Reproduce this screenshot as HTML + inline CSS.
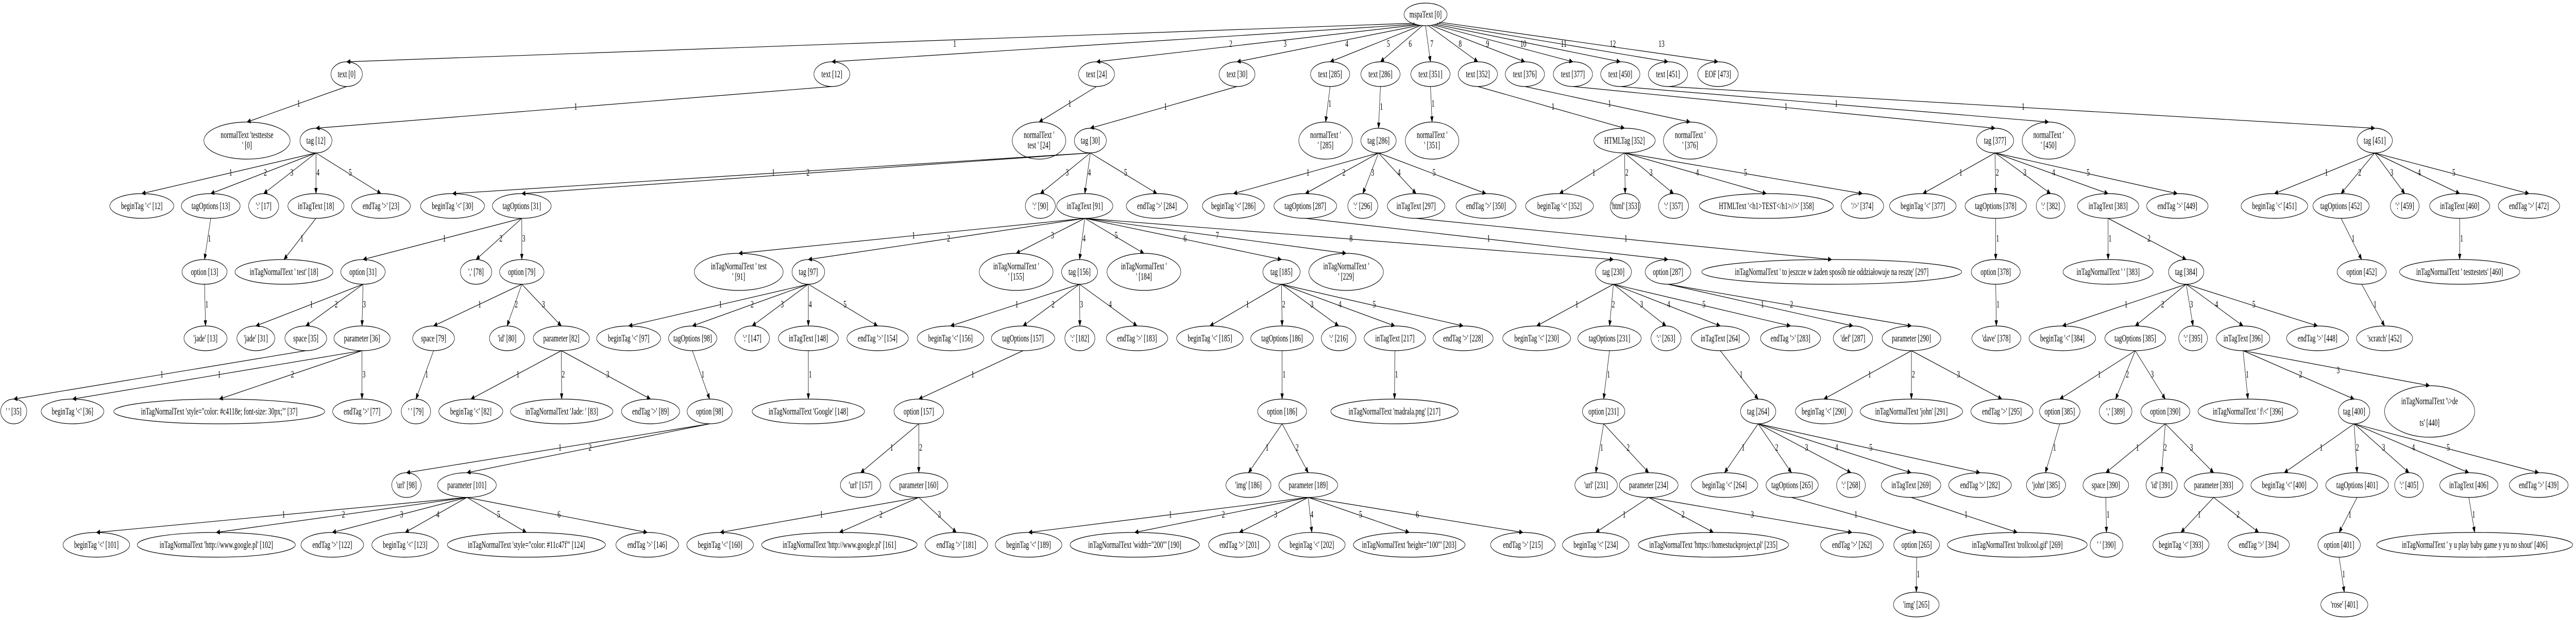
<!DOCTYPE html>
<html><head><meta charset="utf-8">
<style>
html,body{margin:0;padding:0;background:#fff;width:100%;height:100%;overflow:hidden;}
svg{display:block;width:100vw;height:100vh;}
text{font-family:"Liberation Serif","DejaVu Serif",serif;font-size:18.7px;text-anchor:middle;fill:#000;}
ellipse{fill:none;stroke:#000;stroke-width:1.2;}
line{stroke:#000;stroke-width:1.2;}
</style></head><body>
<svg xmlns="http://www.w3.org/2000/svg" viewBox="0 0 7884 1204" preserveAspectRatio="none">
<defs><marker id="a" markerWidth="12" markerHeight="10" refX="11" refY="5" orient="auto" markerUnits="userSpaceOnUse"><path d="M0,0 L12,5 L0,10 z" fill="#000"/></marker></defs>
<g marker-end="url(#a)">
<line x1="4330" y1="45" x2="1061" y2="120"/><line x1="4335" y1="47" x2="2546" y2="120"/><line x1="4340" y1="48" x2="3356" y2="120"/><line x1="4345" y1="49" x2="3786" y2="120"/><line x1="4350" y1="49" x2="4071" y2="120"/><line x1="4355" y1="49" x2="4225" y2="120"/><line x1="4363" y1="50" x2="4378" y2="120"/><line x1="4370" y1="49" x2="4523" y2="120"/><line x1="4378" y1="49" x2="4667" y2="120"/><line x1="4385" y1="48" x2="4814" y2="120"/><line x1="4392" y1="47" x2="4959" y2="120"/><line x1="4398" y1="45" x2="5105" y2="120"/><line x1="4405" y1="43" x2="5258" y2="120"/>
<line x1="1061" y1="168" x2="756" y2="237"/><line x1="2546" y1="168" x2="967" y2="249"/><line x1="3356" y1="168" x2="3180" y2="237"/><line x1="3786" y1="168" x2="3337" y2="249"/><line x1="4071" y1="168" x2="4057" y2="237"/><line x1="4225" y1="168" x2="4219" y2="249"/><line x1="4378" y1="168" x2="4383" y2="237"/><line x1="4523" y1="168" x2="4972" y2="249"/><line x1="4667" y1="168" x2="5173" y2="237"/><line x1="4814" y1="168" x2="6106" y2="249"/><line x1="4959" y1="168" x2="6270" y2="237"/><line x1="5105" y1="168" x2="7268" y2="249"/>
<line x1="967" y1="297" x2="434" y2="376"/><line x1="967" y1="297" x2="645" y2="376"/><line x1="967" y1="297" x2="807" y2="376"/><line x1="967" y1="297" x2="967" y2="376"/><line x1="967" y1="297" x2="1166" y2="376"/>
<line x1="3337" y1="297" x2="1385" y2="376"/><line x1="3337" y1="297" x2="1597" y2="376"/><line x1="3337" y1="297" x2="3184" y2="376"/><line x1="3337" y1="297" x2="3320" y2="376"/><line x1="3337" y1="297" x2="3541" y2="376"/>
<line x1="4219" y1="297" x2="3775" y2="376"/><line x1="4219" y1="297" x2="3995" y2="376"/><line x1="4219" y1="297" x2="4171" y2="376"/><line x1="4219" y1="297" x2="4334" y2="376"/><line x1="4219" y1="297" x2="4548" y2="376"/>
<line x1="4972" y1="297" x2="4773" y2="376"/><line x1="4972" y1="297" x2="4974" y2="376"/><line x1="4972" y1="297" x2="5122" y2="376"/><line x1="4972" y1="297" x2="5406" y2="376"/><line x1="4972" y1="297" x2="5700" y2="376"/>
<line x1="6106" y1="297" x2="5885" y2="376"/><line x1="6106" y1="297" x2="6108" y2="376"/><line x1="6106" y1="297" x2="6276" y2="376"/><line x1="6106" y1="297" x2="6452" y2="376"/><line x1="6106" y1="297" x2="6664" y2="376"/>
<line x1="7268" y1="297" x2="6961" y2="376"/><line x1="7268" y1="297" x2="7165" y2="376"/><line x1="7268" y1="297" x2="7360" y2="376"/><line x1="7268" y1="297" x2="7528" y2="376"/><line x1="7268" y1="297" x2="7740" y2="376"/>
<line x1="645" y1="424" x2="626" y2="504"/><line x1="967" y1="424" x2="869" y2="504"/>
<line x1="1597" y1="424" x2="1111" y2="504"/><line x1="1597" y1="424" x2="1457" y2="504"/><line x1="1597" y1="424" x2="1597" y2="504"/>
<line x1="3320" y1="424" x2="2261" y2="492"/><line x1="3320" y1="424" x2="2474" y2="504"/><line x1="3320" y1="424" x2="3110" y2="492"/><line x1="3320" y1="424" x2="3304" y2="504"/><line x1="3320" y1="424" x2="3501" y2="492"/><line x1="3320" y1="424" x2="3922" y2="504"/><line x1="3320" y1="424" x2="4120" y2="492"/><line x1="3320" y1="424" x2="4938" y2="504"/>
<line x1="3995" y1="424" x2="5105" y2="504"/><line x1="4334" y1="424" x2="5606" y2="504"/>
<line x1="6108" y1="424" x2="6108" y2="504"/><line x1="6452" y1="424" x2="6452" y2="504"/><line x1="6452" y1="424" x2="6691" y2="504"/>
<line x1="7165" y1="424" x2="7228" y2="504"/><line x1="7528" y1="424" x2="7528" y2="504"/>
<line x1="626" y1="552" x2="629" y2="633"/>
<line x1="1111" y1="552" x2="783" y2="633"/><line x1="1111" y1="552" x2="936" y2="633"/><line x1="1111" y1="552" x2="1108" y2="633"/>
<line x1="1597" y1="552" x2="1327" y2="633"/><line x1="1597" y1="552" x2="1552" y2="633"/><line x1="1597" y1="552" x2="1718" y2="633"/>
<line x1="2474" y1="552" x2="1924" y2="633"/><line x1="2474" y1="552" x2="2119" y2="633"/><line x1="2474" y1="552" x2="2302" y2="633"/><line x1="2474" y1="552" x2="2474" y2="633"/><line x1="2474" y1="552" x2="2686" y2="633"/>
<line x1="3304" y1="552" x2="2909" y2="633"/><line x1="3304" y1="552" x2="3131" y2="633"/><line x1="3304" y1="552" x2="3305" y2="633"/><line x1="3304" y1="552" x2="3480" y2="633"/>
<line x1="3922" y1="552" x2="3703" y2="633"/><line x1="3922" y1="552" x2="3924" y2="633"/><line x1="3922" y1="552" x2="4097" y2="633"/><line x1="3922" y1="552" x2="4269" y2="633"/><line x1="3922" y1="552" x2="4478" y2="633"/>
<line x1="4938" y1="552" x2="4703" y2="633"/><line x1="4938" y1="552" x2="4926" y2="633"/><line x1="4938" y1="552" x2="5099" y2="633"/><line x1="4938" y1="552" x2="5265" y2="633"/><line x1="4938" y1="552" x2="5480" y2="633"/>
<line x1="5105" y1="552" x2="5671" y2="633"/><line x1="5105" y1="552" x2="5850" y2="633"/>
<line x1="6108" y1="552" x2="6110" y2="633"/>
<line x1="6691" y1="552" x2="6312" y2="633"/><line x1="6691" y1="552" x2="6535" y2="633"/><line x1="6691" y1="552" x2="6712" y2="633"/><line x1="6691" y1="552" x2="6865" y2="633"/><line x1="6691" y1="552" x2="7093" y2="633"/>
<line x1="7228" y1="552" x2="7298" y2="633"/>
<line x1="936" y1="681" x2="42" y2="775"/>
<line x1="1108" y1="681" x2="222" y2="775"/><line x1="1108" y1="681" x2="671" y2="775"/><line x1="1108" y1="681" x2="1108" y2="775"/>
<line x1="1327" y1="681" x2="1273" y2="775"/>
<line x1="1718" y1="681" x2="1441" y2="775"/><line x1="1718" y1="681" x2="1719" y2="775"/><line x1="1718" y1="681" x2="1991" y2="775"/>
<line x1="2119" y1="681" x2="2172" y2="775"/><line x1="2474" y1="681" x2="2474" y2="775"/><line x1="3131" y1="681" x2="2812" y2="775"/><line x1="3924" y1="681" x2="3924" y2="775"/><line x1="4269" y1="681" x2="4268" y2="775"/><line x1="4926" y1="681" x2="4908" y2="775"/><line x1="5265" y1="681" x2="5381" y2="775"/>
<line x1="5850" y1="681" x2="5582" y2="775"/><line x1="5850" y1="681" x2="5850" y2="775"/><line x1="5850" y1="681" x2="6127" y2="775"/>
<line x1="6535" y1="681" x2="6304" y2="775"/><line x1="6535" y1="681" x2="6475" y2="775"/><line x1="6535" y1="681" x2="6627" y2="775"/>
<line x1="6865" y1="681" x2="6880" y2="775"/><line x1="6865" y1="681" x2="7205" y2="775"/><line x1="6865" y1="681" x2="7436" y2="749"/>
<line x1="2172" y1="823" x2="1244" y2="918"/><line x1="2172" y1="823" x2="1429" y2="918"/>
<line x1="2812" y1="823" x2="2634" y2="918"/><line x1="2812" y1="823" x2="2812" y2="918"/>
<line x1="3924" y1="823" x2="3821" y2="918"/><line x1="3924" y1="823" x2="4004" y2="918"/>
<line x1="4908" y1="823" x2="4884" y2="918"/><line x1="4908" y1="823" x2="5046" y2="918"/>
<line x1="5381" y1="823" x2="5278" y2="918"/><line x1="5381" y1="823" x2="5483" y2="918"/><line x1="5381" y1="823" x2="5665" y2="918"/><line x1="5381" y1="823" x2="5849" y2="918"/><line x1="5381" y1="823" x2="6060" y2="918"/>
<line x1="6304" y1="823" x2="6260" y2="918"/>
<line x1="6627" y1="823" x2="6445" y2="918"/><line x1="6627" y1="823" x2="6616" y2="918"/><line x1="6627" y1="823" x2="6775" y2="918"/>
<line x1="7205" y1="823" x2="6991" y2="918"/><line x1="7205" y1="823" x2="7214" y2="918"/><line x1="7205" y1="823" x2="7373" y2="918"/><line x1="7205" y1="823" x2="7556" y2="918"/><line x1="7205" y1="823" x2="7770" y2="918"/>
<line x1="1429" y1="966" x2="295" y2="1034"/><line x1="1429" y1="966" x2="662" y2="1034"/><line x1="1429" y1="966" x2="1017" y2="1034"/><line x1="1429" y1="966" x2="1240" y2="1034"/><line x1="1429" y1="966" x2="1611" y2="1034"/><line x1="1429" y1="966" x2="1981" y2="1034"/>
<line x1="2812" y1="966" x2="2204" y2="1034"/><line x1="2812" y1="966" x2="2569" y2="1034"/><line x1="2812" y1="966" x2="2927" y2="1034"/>
<line x1="4004" y1="966" x2="3148" y2="1034"/><line x1="4004" y1="966" x2="3473" y2="1034"/><line x1="4004" y1="966" x2="3793" y2="1034"/><line x1="4004" y1="966" x2="4015" y2="1034"/><line x1="4004" y1="966" x2="4313" y2="1034"/><line x1="4004" y1="966" x2="4661" y2="1034"/>
<line x1="5046" y1="966" x2="4884" y2="1034"/><line x1="5046" y1="966" x2="5244" y2="1034"/><line x1="5046" y1="966" x2="5668" y2="1034"/>
<line x1="5483" y1="966" x2="5866" y2="1034"/><line x1="5849" y1="966" x2="6174" y2="1034"/><line x1="6445" y1="966" x2="6447" y2="1034"/>
<line x1="6775" y1="966" x2="6675" y2="1034"/><line x1="6775" y1="966" x2="6913" y2="1034"/>
<line x1="7214" y1="966" x2="7159" y2="1034"/><line x1="7556" y1="966" x2="7574" y2="1034"/>
<line x1="5866" y1="1082" x2="5865" y2="1150"/><line x1="7159" y1="1082" x2="7175" y2="1150"/>
</g>
<g>
<text x="2922" y="91">1</text><text x="3767" y="91">2</text><text x="3933" y="91">3</text><text x="4122" y="91">4</text><text x="4249" y="91">5</text><text x="4316" y="91">6</text><text x="4382" y="91">7</text><text x="4469" y="91">8</text><text x="4553" y="91">9</text><text x="4662" y="91">10</text><text x="4786" y="91">11</text><text x="4936" y="91">12</text><text x="5085" y="91">13</text>
<text x="914" y="207">1</text><text x="1762" y="213">1</text><text x="3274" y="207">1</text><text x="3567" y="213">1</text><text x="4070" y="207">1</text><text x="4228" y="213">1</text><text x="4386" y="207">1</text><text x="4753" y="213">1</text><text x="4926" y="207">1</text><text x="5466" y="213">1</text><text x="5620" y="207">1</text><text x="6192" y="213">1</text>
<text x="706" y="341">1</text><text x="812" y="341">2</text><text x="893" y="341">3</text><text x="973" y="341">4</text><text x="1072" y="341">5</text>
<text x="2367" y="341">1</text><text x="2473" y="341">2</text><text x="3266" y="341">3</text><text x="3334" y="341">4</text><text x="3445" y="341">5</text>
<text x="4003" y="341">1</text><text x="4113" y="341">2</text><text x="4201" y="341">3</text><text x="4282" y="341">4</text><text x="4389" y="341">5</text>
<text x="4878" y="341">1</text><text x="4979" y="341">2</text><text x="5053" y="341">3</text><text x="5195" y="341">4</text><text x="5342" y="341">5</text>
<text x="6001" y="341">1</text><text x="6113" y="341">2</text><text x="6197" y="341">3</text><text x="6285" y="341">4</text><text x="6391" y="341">5</text>
<text x="7120" y="341">1</text><text x="7222" y="341">2</text><text x="7320" y="341">3</text><text x="7404" y="341">4</text><text x="7510" y="341">5</text>
<text x="641" y="469">1</text><text x="924" y="469">1</text><text x="1360" y="469">1</text><text x="1533" y="469">2</text><text x="1603" y="469">3</text>
<text x="2796" y="463">1</text><text x="2903" y="469">2</text><text x="3221" y="463">3</text><text x="3318" y="469">4</text><text x="3416" y="463">5</text><text x="3627" y="469">6</text><text x="3726" y="463">7</text><text x="4135" y="469">8</text>
<text x="4556" y="469">1</text><text x="4976" y="469">1</text><text x="6114" y="469">1</text><text x="6458" y="469">1</text><text x="6577" y="469">2</text><text x="7202" y="469">1</text><text x="7534" y="469">1</text>
<text x="633" y="597">1</text><text x="953" y="597">1</text><text x="1029" y="597">2</text><text x="1115" y="597">3</text><text x="1468" y="597">1</text><text x="1580" y="597">2</text><text x="1663" y="597">3</text>
<text x="2205" y="597">1</text><text x="2302" y="597">2</text><text x="2394" y="597">3</text><text x="2480" y="597">4</text><text x="2586" y="597">5</text>
<text x="3112" y="597">1</text><text x="3223" y="597">2</text><text x="3310" y="597">3</text><text x="3398" y="597">4</text>
<text x="3818" y="597">1</text><text x="3929" y="597">2</text><text x="4015" y="597">3</text><text x="4101" y="597">4</text><text x="4206" y="597">5</text>
<text x="4826" y="597">1</text><text x="4938" y="597">2</text><text x="5024" y="597">3</text><text x="5107" y="597">4</text><text x="5215" y="597">5</text>
<text x="5394" y="597">1</text><text x="5483" y="597">2</text><text x="6115" y="597">1</text>
<text x="6507" y="597">1</text><text x="6619" y="597">2</text><text x="6707" y="597">3</text><text x="6784" y="597">4</text><text x="6898" y="597">5</text><text x="7269" y="597">1</text>
<text x="495" y="733">1</text><text x="671" y="733">1</text><text x="895" y="733">2</text><text x="1114" y="733">3</text><text x="1306" y="733">1</text>
<text x="1585" y="733">1</text><text x="1724" y="733">2</text><text x="1860" y="733">3</text>
<text x="2151" y="733">1</text><text x="2480" y="733">1</text><text x="2977" y="733">1</text><text x="3930" y="733">1</text><text x="4274" y="733">1</text><text x="4923" y="733">1</text><text x="5329" y="733">1</text>
<text x="5722" y="733">1</text><text x="5856" y="733">2</text><text x="5994" y="733">3</text>
<text x="6425" y="733">1</text><text x="6511" y="733">2</text><text x="6587" y="733">3</text>
<text x="6878" y="733">1</text><text x="7041" y="733">2</text><text x="7156" y="725">3</text>
<text x="1714" y="875">1</text><text x="1806" y="875">2</text><text x="2729" y="875">1</text><text x="2818" y="875">2</text>
<text x="3878" y="875">1</text><text x="3970" y="875">2</text><text x="4902" y="875">1</text><text x="4983" y="875">2</text>
<text x="5335" y="875">1</text><text x="5438" y="875">2</text><text x="5529" y="875">3</text><text x="5621" y="875">4</text><text x="5726" y="875">5</text>
<text x="6288" y="875">1</text><text x="6542" y="875">1</text><text x="6627" y="875">2</text><text x="6707" y="875">3</text>
<text x="7104" y="875">1</text><text x="7215" y="875">2</text><text x="7295" y="875">3</text><text x="7386" y="875">4</text><text x="7493" y="875">5</text>
<text x="868" y="1005">1</text><text x="1051" y="1005">2</text><text x="1229" y="1005">3</text><text x="1340" y="1005">4</text><text x="1526" y="1005">5</text><text x="1711" y="1005">6</text>
<text x="2514" y="1005">1</text><text x="2696" y="1005">2</text><text x="2875" y="1005">3</text>
<text x="3582" y="1005">1</text><text x="3744" y="1005">2</text><text x="3904" y="1005">3</text><text x="4015" y="1005">4</text><text x="4164" y="1005">5</text><text x="4338" y="1005">6</text>
<text x="4971" y="1005">1</text><text x="5151" y="1005">2</text><text x="5363" y="1005">3</text>
<text x="5680" y="1005">1</text><text x="6017" y="1005">1</text><text x="6452" y="1005">1</text><text x="6731" y="1005">1</text><text x="6850" y="1005">2</text><text x="7192" y="1005">1</text><text x="7571" y="1005">1</text>
<text x="5871" y="1121">1</text><text x="7173" y="1121">1</text>
</g>
<g fill="#fff">
<ellipse cx="4363" cy="28" rx="66" ry="22"/><text x="4363" y="34">mspaText [0]</text>
<ellipse cx="1061" cy="144" rx="48" ry="24"/><text x="1061" y="150">text [0]</text>
<ellipse cx="2546" cy="144" rx="55" ry="24"/><text x="2546" y="150">text [12]</text>
<ellipse cx="3356" cy="144" rx="55" ry="24"/><text x="3356" y="150">text [24]</text>
<ellipse cx="3786" cy="144" rx="55" ry="24"/><text x="3786" y="150">text [30]</text>
<ellipse cx="4071" cy="144" rx="60" ry="24"/><text x="4071" y="150">text [285]</text>
<ellipse cx="4225" cy="144" rx="60" ry="24"/><text x="4225" y="150">text [286]</text>
<ellipse cx="4378" cy="144" rx="60" ry="24"/><text x="4378" y="150">text [351]</text>
<ellipse cx="4523" cy="144" rx="60" ry="24"/><text x="4523" y="150">text [352]</text>
<ellipse cx="4667" cy="144" rx="60" ry="24"/><text x="4667" y="150">text [376]</text>
<ellipse cx="4814" cy="144" rx="60" ry="24"/><text x="4814" y="150">text [377]</text>
<ellipse cx="4959" cy="144" rx="60" ry="24"/><text x="4959" y="150">text [450]</text>
<ellipse cx="5105" cy="144" rx="60" ry="24"/><text x="5105" y="150">text [451]</text>
<ellipse cx="5258" cy="144" rx="62" ry="24"/><text x="5258" y="150">EOF [473]</text>

<ellipse cx="756" cy="273" rx="132" ry="36"/><text x="756" y="268">normalText 'testtestse</text><text x="756" y="288">' [0]</text>
<ellipse cx="967" cy="273" rx="49" ry="24"/><text x="967" y="279">tag [12]</text>
<ellipse cx="3180" cy="273" rx="82" ry="36"/><text x="3180" y="268">normalText '</text><text x="3180" y="288">test ' [24]</text>
<ellipse cx="3337" cy="273" rx="49" ry="24"/><text x="3337" y="279">tag [30]</text>
<ellipse cx="4057" cy="273" rx="82" ry="36"/><text x="4057" y="268">normalText '</text><text x="4057" y="288">' [285]</text>
<ellipse cx="4219" cy="273" rx="54" ry="24"/><text x="4219" y="279">tag [286]</text>
<ellipse cx="4383" cy="273" rx="82" ry="36"/><text x="4383" y="268">normalText '</text><text x="4383" y="288">' [351]</text>
<ellipse cx="4972" cy="273" rx="94" ry="24"/><text x="4972" y="279">HTMLTag [352]</text>
<ellipse cx="5173" cy="273" rx="82" ry="36"/><text x="5173" y="268">normalText '</text><text x="5173" y="288">' [376]</text>
<ellipse cx="6106" cy="273" rx="57" ry="24"/><text x="6106" y="279">tag [377]</text>
<ellipse cx="6270" cy="273" rx="81" ry="36"/><text x="6270" y="268">normalText '</text><text x="6270" y="288">' [450]</text>
<ellipse cx="7268" cy="273" rx="54" ry="24"/><text x="7268" y="279">tag [451]</text>

<ellipse cx="434" cy="400" rx="98" ry="24"/><text x="434" y="406">beginTag '&lt;' [12]</text>
<ellipse cx="645" cy="400" rx="90" ry="24"/><text x="645" y="406">tagOptions [13]</text>
<ellipse cx="807" cy="400" rx="46" ry="24"/><text x="807" y="406">':' [17]</text>
<ellipse cx="967" cy="400" rx="86" ry="24"/><text x="967" y="406">inTagText [18]</text>
<ellipse cx="1166" cy="400" rx="90" ry="24"/><text x="1166" y="406">endTag '&gt;' [23]</text>
<ellipse cx="1385" cy="400" rx="98" ry="24"/><text x="1385" y="406">beginTag '&lt;' [30]</text>
<ellipse cx="1597" cy="400" rx="90" ry="24"/><text x="1597" y="406">tagOptions [31]</text>
<ellipse cx="3184" cy="400" rx="46" ry="24"/><text x="3184" y="406">':' [90]</text>
<ellipse cx="3320" cy="400" rx="86" ry="24"/><text x="3320" y="406">inTagText [91]</text>
<ellipse cx="3541" cy="400" rx="94" ry="24"/><text x="3541" y="406">endTag '&gt;' [284]</text>
<ellipse cx="3775" cy="400" rx="95" ry="24"/><text x="3775" y="406">beginTag '&lt;' [286]</text>
<ellipse cx="3995" cy="400" rx="96" ry="24"/><text x="3995" y="406">tagOptions [287]</text>
<ellipse cx="4171" cy="400" rx="46" ry="24"/><text x="4171" y="406">':' [296]</text>
<ellipse cx="4334" cy="400" rx="88" ry="24"/><text x="4334" y="406">inTagText [297]</text>
<ellipse cx="4548" cy="400" rx="92" ry="24"/><text x="4548" y="406">endTag '&gt;' [350]</text>
<ellipse cx="4773" cy="400" rx="104" ry="24"/><text x="4773" y="406">beginTag '&lt;' [352]</text>
<ellipse cx="4974" cy="400" rx="46" ry="24"/><text x="4974" y="406">'html' [353]</text>
<ellipse cx="5122" cy="400" rx="46" ry="24"/><text x="5122" y="406">':' [357]</text>
<ellipse cx="5406" cy="400" rx="205" ry="24"/><text x="5406" y="406">HTMLText '&lt;h1&gt;TEST&lt;/h1&gt;//&gt;' [358]</text>
<ellipse cx="5700" cy="400" rx="65" ry="24"/><text x="5700" y="406">'/&gt;' [374]</text>
<ellipse cx="5885" cy="400" rx="102" ry="24"/><text x="5885" y="406">beginTag '&lt;' [377]</text>
<ellipse cx="6108" cy="400" rx="94" ry="24"/><text x="6108" y="406">tagOptions [378]</text>
<ellipse cx="6276" cy="400" rx="44" ry="24"/><text x="6276" y="406">':' [382]</text>
<ellipse cx="6452" cy="400" rx="94" ry="24"/><text x="6452" y="406">inTagText [383]</text>
<ellipse cx="6664" cy="400" rx="94" ry="24"/><text x="6664" y="406">endTag '&gt;' [449]</text>
<ellipse cx="6961" cy="400" rx="102" ry="24"/><text x="6961" y="406">beginTag '&lt;' [451]</text>
<ellipse cx="7165" cy="400" rx="86" ry="24"/><text x="7165" y="406">tagOptions [452]</text>
<ellipse cx="7360" cy="400" rx="44" ry="24"/><text x="7360" y="406">':' [459]</text>
<ellipse cx="7528" cy="400" rx="92" ry="24"/><text x="7528" y="406">inTagText [460]</text>
<ellipse cx="7740" cy="400" rx="94" ry="24"/><text x="7740" y="406">endTag '&gt;' [472]</text>

<ellipse cx="626" cy="528" rx="69" ry="24"/><text x="626" y="534">option [13]</text>
<ellipse cx="869" cy="528" rx="150" ry="24"/><text x="869" y="534">inTagNormalText ' test' [18]</text>
<ellipse cx="1111" cy="528" rx="68" ry="24"/><text x="1111" y="534">option [31]</text>
<ellipse cx="1457" cy="528" rx="48" ry="24"/><text x="1457" y="534">',' [78]</text>
<ellipse cx="1597" cy="528" rx="68" ry="24"/><text x="1597" y="534">option [79]</text>
<ellipse cx="2261" cy="528" rx="136" ry="36"/><text x="2261" y="523">inTagNormalText ' test</text><text x="2261" y="543">' [91]</text>
<ellipse cx="2474" cy="528" rx="50" ry="24"/><text x="2474" y="534">tag [97]</text>
<ellipse cx="3110" cy="528" rx="113" ry="36"/><text x="3110" y="523">inTagNormalText '</text><text x="3110" y="543">' [155]</text>
<ellipse cx="3304" cy="528" rx="55" ry="24"/><text x="3304" y="534">tag [156]</text>
<ellipse cx="3501" cy="528" rx="113" ry="36"/><text x="3501" y="523">inTagNormalText '</text><text x="3501" y="543">' [184]</text>
<ellipse cx="3922" cy="528" rx="57" ry="24"/><text x="3922" y="534">tag [185]</text>
<ellipse cx="4120" cy="528" rx="114" ry="36"/><text x="4120" y="523">inTagNormalText '</text><text x="4120" y="543">' [229]</text>
<ellipse cx="4938" cy="528" rx="55" ry="24"/><text x="4938" y="534">tag [230]</text>
<ellipse cx="5105" cy="528" rx="70" ry="24"/><text x="5105" y="534">option [287]</text>
<ellipse cx="5606" cy="528" rx="398" ry="24"/><text x="5606" y="534">inTagNormalText ' to jeszcze w żaden sposób nie oddziałowuje na resztę' [297]</text>
<ellipse cx="6108" cy="528" rx="75" ry="24"/><text x="6108" y="534">option [378]</text>
<ellipse cx="6452" cy="528" rx="138" ry="24"/><text x="6452" y="534">inTagNormalText ' ' [383]</text>
<ellipse cx="6691" cy="528" rx="54" ry="24"/><text x="6691" y="534">tag [384]</text>
<ellipse cx="7228" cy="528" rx="75" ry="24"/><text x="7228" y="534">option [452]</text>
<ellipse cx="7528" cy="528" rx="184" ry="24"/><text x="7528" y="534">inTagNormalText ' testtestets' [460]</text>

<ellipse cx="629" cy="657" rx="66" ry="24"/><text x="629" y="663">'jade' [13]</text>
<ellipse cx="783" cy="657" rx="58" ry="24"/><text x="783" y="663">'jade' [31]</text>
<ellipse cx="936" cy="657" rx="64" ry="24"/><text x="936" y="663">space [35]</text>
<ellipse cx="1108" cy="657" rx="86" ry="24"/><text x="1108" y="663">parameter [36]</text>
<ellipse cx="1327" cy="657" rx="64" ry="24"/><text x="1327" y="663">space [79]</text>
<ellipse cx="1552" cy="657" rx="54" ry="24"/><text x="1552" y="663">'id' [80]</text>
<ellipse cx="1718" cy="657" rx="86" ry="24"/><text x="1718" y="663">parameter [82]</text>
<ellipse cx="1924" cy="657" rx="98" ry="24"/><text x="1924" y="663">beginTag '&lt;' [97]</text>
<ellipse cx="2120" cy="657" rx="74" ry="24"/><text x="2120" y="663">tagOptions [98]</text>
<ellipse cx="2302" cy="657" rx="53" ry="24"/><text x="2302" y="663">':' [147]</text>
<ellipse cx="2474" cy="657" rx="92" ry="24"/><text x="2474" y="663">inTagText [148]</text>
<ellipse cx="2686" cy="657" rx="94" ry="24"/><text x="2686" y="663">endTag '&gt;' [154]</text>
<ellipse cx="2909" cy="657" rx="102" ry="24"/><text x="2909" y="663">beginTag '&lt;' [156]</text>
<ellipse cx="3131" cy="657" rx="97" ry="24"/><text x="3131" y="663">tagOptions [157]</text>
<ellipse cx="3305" cy="657" rx="46" ry="24"/><text x="3305" y="663">':' [182]</text>
<ellipse cx="3480" cy="657" rx="94" ry="24"/><text x="3480" y="663">endTag '&gt;' [183]</text>
<ellipse cx="3703" cy="657" rx="102" ry="24"/><text x="3703" y="663">beginTag '&lt;' [185]</text>
<ellipse cx="3924" cy="657" rx="96" ry="24"/><text x="3924" y="663">tagOptions [186]</text>
<ellipse cx="4097" cy="657" rx="53" ry="24"/><text x="4097" y="663">':' [216]</text>
<ellipse cx="4269" cy="657" rx="94" ry="24"/><text x="4269" y="663">inTagText [217]</text>
<ellipse cx="4478" cy="657" rx="92" ry="24"/><text x="4478" y="663">endTag '&gt;' [228]</text>
<ellipse cx="4703" cy="657" rx="104" ry="24"/><text x="4703" y="663">beginTag '&lt;' [230]</text>
<ellipse cx="4926" cy="657" rx="97" ry="24"/><text x="4926" y="663">tagOptions [231]</text>
<ellipse cx="5099" cy="657" rx="46" ry="24"/><text x="5099" y="663">':' [263]</text>
<ellipse cx="5265" cy="657" rx="89" ry="24"/><text x="5265" y="663">inTagText [264]</text>
<ellipse cx="5480" cy="657" rx="92" ry="24"/><text x="5480" y="663">endTag '&gt;' [283]</text>
<ellipse cx="5671" cy="657" rx="60" ry="24"/><text x="5671" y="663">'def' [287]</text>
<ellipse cx="5850" cy="657" rx="90" ry="24"/><text x="5850" y="663">parameter [290]</text>
<ellipse cx="6110" cy="657" rx="75" ry="24"/><text x="6110" y="663">'dave' [378]</text>
<ellipse cx="6312" cy="657" rx="102" ry="24"/><text x="6312" y="663">beginTag '&lt;' [384]</text>
<ellipse cx="6535" cy="657" rx="93" ry="24"/><text x="6535" y="663">tagOptions [385]</text>
<ellipse cx="6712" cy="657" rx="44" ry="24"/><text x="6712" y="663">':' [395]</text>
<ellipse cx="6865" cy="657" rx="82" ry="24"/><text x="6865" y="663">inTagText [396]</text>
<ellipse cx="7093" cy="657" rx="95" ry="24"/><text x="7093" y="663">endTag '&gt;' [448]</text>
<ellipse cx="7298" cy="657" rx="86" ry="24"/><text x="7298" y="663">'scratch' [452]</text>

<ellipse cx="42" cy="799" rx="40" ry="24"/><text x="42" y="805">' ' [35]</text>
<ellipse cx="222" cy="799" rx="96" ry="24"/><text x="222" y="805">beginTag '&lt;' [36]</text>
<ellipse cx="671" cy="799" rx="323" ry="24"/><text x="671" y="805">inTagNormalText 'style="color: #c4118e; font-size: 30px;"' [37]</text>
<ellipse cx="1108" cy="799" rx="90" ry="24"/><text x="1108" y="805">endTag '&gt;' [77]</text>
<ellipse cx="1273" cy="799" rx="45" ry="24"/><text x="1273" y="805">' ' [79]</text>
<ellipse cx="1441" cy="799" rx="98" ry="24"/><text x="1441" y="805">beginTag '&lt;' [82]</text>
<ellipse cx="1719" cy="799" rx="157" ry="24"/><text x="1719" y="805">inTagNormalText 'Jade: ' [83]</text>
<ellipse cx="1991" cy="799" rx="89" ry="24"/><text x="1991" y="805">endTag '&gt;' [89]</text>
<ellipse cx="2172" cy="799" rx="69" ry="24"/><text x="2172" y="805">option [98]</text>
<ellipse cx="2474" cy="799" rx="172" ry="24"/><text x="2474" y="805">inTagNormalText 'Google' [148]</text>
<ellipse cx="2812" cy="799" rx="76" ry="24"/><text x="2812" y="805">option [157]</text>
<ellipse cx="3924" cy="799" rx="75" ry="24"/><text x="3924" y="805">option [186]</text>
<ellipse cx="4268" cy="799" rx="195" ry="24"/><text x="4268" y="805">inTagNormalText 'madrala.png' [217]</text>
<ellipse cx="4908" cy="799" rx="65" ry="24"/><text x="4908" y="805">option [231]</text>
<ellipse cx="5381" cy="799" rx="54" ry="24"/><text x="5381" y="805">tag [264]</text>
<ellipse cx="5582" cy="799" rx="87" ry="24"/><text x="5582" y="805">beginTag '&lt;' [290]</text>
<ellipse cx="5850" cy="799" rx="157" ry="24"/><text x="5850" y="805">inTagNormalText 'john' [291]</text>
<ellipse cx="6127" cy="799" rx="95" ry="24"/><text x="6127" y="805">endTag '&gt;' [295]</text>
<ellipse cx="6304" cy="799" rx="62" ry="24"/><text x="6304" y="805">option [385]</text>
<ellipse cx="6475" cy="799" rx="50" ry="24"/><text x="6475" y="805">',' [389]</text>
<ellipse cx="6627" cy="799" rx="75" ry="24"/><text x="6627" y="805">option [390]</text>
<ellipse cx="6880" cy="799" rx="153" ry="24"/><text x="6880" y="805">inTagNormalText ' f\&lt;' [396]</text>
<ellipse cx="7205" cy="799" rx="48" ry="24"/><text x="7205" y="805">tag [400]</text>
<ellipse cx="7436" cy="799" rx="138" ry="50"/><text x="7436" y="785">inTagNormalText '\&gt;de</text><text x="7436" y="827">ts' [440]</text>

<ellipse cx="1244" cy="942" rx="45" ry="24"/><text x="1244" y="948">'url' [98]</text>
<ellipse cx="1429" cy="942" rx="90" ry="24"/><text x="1429" y="948">parameter [101]</text>
<ellipse cx="2634" cy="942" rx="62" ry="24"/><text x="2634" y="948">'url' [157]</text>
<ellipse cx="2812" cy="942" rx="89" ry="24"/><text x="2812" y="948">parameter [160]</text>
<ellipse cx="3821" cy="942" rx="69" ry="24"/><text x="3821" y="948">'img' [186]</text>
<ellipse cx="4004" cy="942" rx="90" ry="24"/><text x="4004" y="948">parameter [189]</text>
<ellipse cx="4885" cy="942" rx="65" ry="24"/><text x="4885" y="948">'url' [231]</text>
<ellipse cx="5046" cy="942" rx="90" ry="24"/><text x="5046" y="948">parameter [234]</text>
<ellipse cx="5278" cy="942" rx="102" ry="24"/><text x="5278" y="948">beginTag '&lt;' [264]</text>
<ellipse cx="5485" cy="942" rx="80" ry="24"/><text x="5485" y="948">tagOptions [265]</text>
<ellipse cx="5665" cy="942" rx="44" ry="24"/><text x="5665" y="948">':' [268]</text>
<ellipse cx="5849" cy="942" rx="91" ry="24"/><text x="5849" y="948">inTagText [269]</text>
<ellipse cx="6060" cy="942" rx="96" ry="24"/><text x="6060" y="948">endTag '&gt;' [282]</text>
<ellipse cx="6262" cy="942" rx="60" ry="24"/><text x="6262" y="948">'john' [385]</text>
<ellipse cx="6445" cy="942" rx="70" ry="24"/><text x="6445" y="948">space [390]</text>
<ellipse cx="6616" cy="942" rx="48" ry="24"/><text x="6616" y="948">'id' [391]</text>
<ellipse cx="6775" cy="942" rx="90" ry="24"/><text x="6775" y="948">parameter [393]</text>
<ellipse cx="6991" cy="942" rx="102" ry="24"/><text x="6991" y="948">beginTag '&lt;' [400]</text>
<ellipse cx="7214" cy="942" rx="96" ry="24"/><text x="7214" y="948">tagOptions [401]</text>
<ellipse cx="7373" cy="942" rx="44" ry="24"/><text x="7373" y="948">':' [405]</text>
<ellipse cx="7556" cy="942" rx="89" ry="24"/><text x="7556" y="948">inTagText [406]</text>
<ellipse cx="7770" cy="942" rx="90" ry="24"/><text x="7770" y="948">endTag '&gt;' [439]</text>

<ellipse cx="295" cy="1058" rx="102" ry="24"/><text x="295" y="1064">beginTag '&lt;' [101]</text>
<ellipse cx="662" cy="1058" rx="242" ry="24"/><text x="662" y="1064">inTagNormalText 'http://www.google.pl' [102]</text>
<ellipse cx="1017" cy="1058" rx="96" ry="24"/><text x="1017" y="1064">endTag '&gt;' [122]</text>
<ellipse cx="1240" cy="1058" rx="102" ry="24"/><text x="1240" y="1064">beginTag '&lt;' [123]</text>
<ellipse cx="1611" cy="1058" rx="242" ry="24"/><text x="1611" y="1064">inTagNormalText 'style="color: #11c47f"' [124]</text>
<ellipse cx="1981" cy="1058" rx="96" ry="24"/><text x="1981" y="1064">endTag '&gt;' [146]</text>
<ellipse cx="2204" cy="1058" rx="102" ry="24"/><text x="2204" y="1064">beginTag '&lt;' [160]</text>
<ellipse cx="2569" cy="1058" rx="238" ry="24"/><text x="2569" y="1064">inTagNormalText 'http://www.google.pl' [161]</text>
<ellipse cx="2927" cy="1058" rx="96" ry="24"/><text x="2927" y="1064">endTag '&gt;' [181]</text>
<ellipse cx="3148" cy="1058" rx="102" ry="24"/><text x="3148" y="1064">beginTag '&lt;' [189]</text>
<ellipse cx="3473" cy="1058" rx="198" ry="24"/><text x="3473" y="1064">inTagNormalText 'width="200"' [190]</text>
<ellipse cx="3793" cy="1058" rx="94" ry="24"/><text x="3793" y="1064">endTag '&gt;' [201]</text>
<ellipse cx="4015" cy="1058" rx="102" ry="24"/><text x="4015" y="1064">beginTag '&lt;' [202]</text>
<ellipse cx="4313" cy="1058" rx="171" ry="24"/><text x="4313" y="1064">inTagNormalText 'height="100"' [203]</text>
<ellipse cx="4661" cy="1058" rx="99" ry="24"/><text x="4661" y="1064">endTag '&gt;' [215]</text>
<ellipse cx="4884" cy="1058" rx="102" ry="24"/><text x="4884" y="1064">beginTag '&lt;' [234]</text>
<ellipse cx="5244" cy="1058" rx="230" ry="24"/><text x="5244" y="1064">inTagNormalText 'https://homestuckproject.pl' [235]</text>
<ellipse cx="5668" cy="1058" rx="96" ry="24"/><text x="5668" y="1064">endTag '&gt;' [262]</text>
<ellipse cx="5866" cy="1058" rx="70" ry="24"/><text x="5866" y="1064">option [265]</text>
<ellipse cx="6174" cy="1058" rx="214" ry="24"/><text x="6174" y="1064">inTagNormalText 'trollcool.gif' [269]</text>
<ellipse cx="6447" cy="1058" rx="50" ry="24"/><text x="6447" y="1064">' ' [390]</text>
<ellipse cx="6675" cy="1058" rx="86" ry="24"/><text x="6675" y="1064">beginTag '&lt;' [393]</text>
<ellipse cx="6913" cy="1058" rx="94" ry="24"/><text x="6913" y="1064">endTag '&gt;' [394]</text>
<ellipse cx="7159" cy="1058" rx="65" ry="24"/><text x="7159" y="1064">option [401]</text>
<ellipse cx="7574" cy="1058" rx="300" ry="24"/><text x="7574" y="1064">inTagNormalText ' y u play baby game y yu no shout' [406]</text>

<ellipse cx="5865" cy="1174" rx="70" ry="24"/><text x="5865" y="1180">'img' [265]</text>
<ellipse cx="7175" cy="1174" rx="72" ry="24"/><text x="7175" y="1180">'rose' [401]</text>
</g>
</svg>
</body></html>
